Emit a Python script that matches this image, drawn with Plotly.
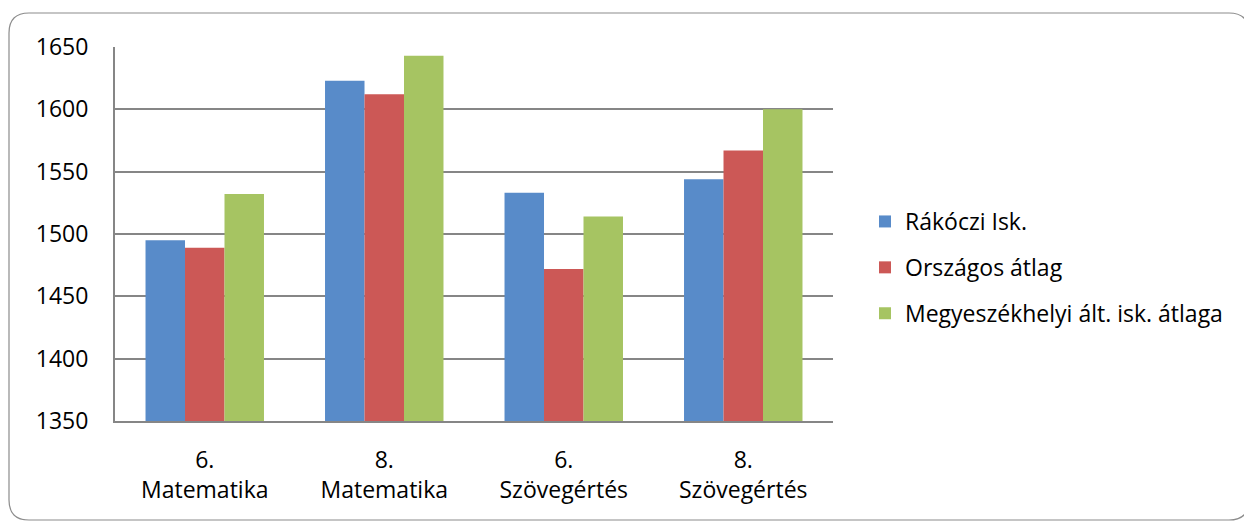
import plotly.graph_objects as go

categories = ["6.<br>Matematika", "8.<br>Matematika", "6.<br>Szövegértés", "8.<br>Szövegértés"]
series_names = ["Rákóczi Isk.", "Országos átlag", "Megyeszékhelyi ált. isk. átlaga"]
rakoczi = [1495, 1623, 1533, 1544]
orszagos = [1489, 1612, 1472, 1567]
megyeszekhely = [1532, 1643, 1514, 1600]
y_ticks = [1350, 1400, 1450, 1500, 1550, 1600, 1650]

colors = ["#588BC9", "#CC5856", "#A6C462"]
OFF = 8  # page offset of the plot div
W, H = 1252, 522
L, R, T, B = 115 - OFF, 419 + OFF, 47 - OFF, 101 + OFF
PW, PH = W - L - R, H - T - B

FONT = "Open Sans"

fig = go.Figure()
for i, (name, vals) in enumerate(zip(series_names, [rakoczi, orszagos, megyeszekhely])):
    fig.add_trace(go.Bar(
        x=categories, y=vals, name=name,
        marker=dict(color=colors[i], line=dict(width=0)),
        legendgroup=f"g{i}",
    ))


def px(x):
    return (x - OFF - L) / PW


def py(y):
    return (H - B - (y - OFF)) / PH


# rounded outer border (screen pixel coords)
x0, x1, y0, y1, r = 9, 1249, 13, 520, 20
path = (
    f"M {px(x0 + r)},{py(y0)} L {px(x1 - r)},{py(y0)} "
    f"Q {px(x1)},{py(y0)} {px(x1)},{py(y0 + r)} "
    f"L {px(x1)},{py(y1 - r)} Q {px(x1)},{py(y1)} {px(x1 - r)},{py(y1)} "
    f"L {px(x0 + r)},{py(y1)} Q {px(x0)},{py(y1)} {px(x0)},{py(y1 - r)} "
    f"L {px(x0)},{py(y0 + r)} Q {px(x0)},{py(y0)} {px(x0 + r)},{py(y0)} Z"
)

fig.update_layout(
    width=W, height=H,
    margin=dict(l=L, r=R, t=T, b=B, autoexpand=False),
    paper_bgcolor="white", plot_bgcolor="white",
    barmode="group", bargap=0.34, bargroupgap=0,
    font=dict(family=FONT, size=22, color="#000000"),
    showlegend=True,
    legend=dict(
        x=px(865), y=py(200), xanchor="left", yanchor="top",
        font=dict(family=FONT, size=23, color="#000000"),
        tracegroupgap=13, itemwidth=30, traceorder="grouped",
        bgcolor="rgba(0,0,0,0)",
    ),
    shapes=[dict(type="path", path=path, xref="paper", yref="paper",
                 line=dict(color="#8C8C8C", width=1.2), fillcolor="rgba(0,0,0,0)",
                 layer="below")],
    xaxis=dict(
        showgrid=False, showline=True, linecolor="#868686", linewidth=2,
        ticks="", tickfont=dict(family=FONT, size=23, color="#000000"),
        ticklabelstandoff=17,
    ),
    yaxis=dict(
        range=[1350, 1650], tickvals=y_ticks, showgrid=True,
        gridcolor="#868686", gridwidth=2, showline=True, linecolor="#868686",
        linewidth=2, zeroline=False, ticks="",
        tickfont=dict(family=FONT, size=23, color="#000000"),
        ticklabelstandoff=20,
    ),
)

fig.write_html("out.html")
